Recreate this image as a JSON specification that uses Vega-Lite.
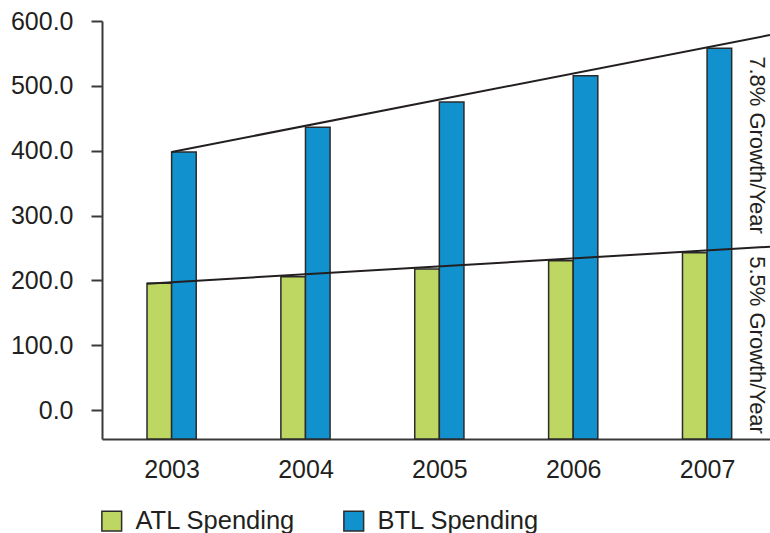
{
  "$schema": "https://vega.github.io/schema/vega-lite/v6.json",
  "width": 668,
  "height": 418,
  "autosize": {"type": "none"},
  "padding": {"left": 102, "top": 21, "right": 0, "bottom": 94},
  "background": "#ffffff",
  "config": {
    "view": {"stroke": null},
    "font": "Liberation Sans",
    "axis": {
      "grid": false,
      "labelFont": "Liberation Sans",
      "labelFontSize": 25,
      "labelColor": "#231f20",
      "domainColor": "#3a3a3a",
      "domainWidth": 2,
      "tickColor": "#3a3a3a",
      "tickWidth": 2,
      "tickSize": 11
    }
  },
  "datasets": {
    "spending": [
      {"year": 2003, "series": "ATL Spending", "value": 195.4},
      {"year": 2004, "series": "ATL Spending", "value": 205.6},
      {"year": 2005, "series": "ATL Spending", "value": 217.5},
      {"year": 2006, "series": "ATL Spending", "value": 230.3},
      {"year": 2007, "series": "ATL Spending", "value": 242.6},
      {"year": 2003, "series": "BTL Spending", "value": 398.0},
      {"year": 2004, "series": "BTL Spending", "value": 436.0},
      {"year": 2005, "series": "BTL Spending", "value": 475.1},
      {"year": 2006, "series": "BTL Spending", "value": 515.6},
      {"year": 2007, "series": "BTL Spending", "value": 557.9}
    ],
    "trends": [
      {"trend": "BTL", "year": 2003, "value": 398.0},
      {"trend": "BTL", "year": 2007.47, "value": 578.4},
      {"trend": "ATL", "year": 2002.816, "value": 194.8},
      {"trend": "ATL", "year": 2007.47, "value": 251.9}
    ],
    "notes": [
      {"label": "7.8% Growth/Year", "year": 2007.372, "value": 408.7},
      {"label": "5.5% Growth/Year", "year": 2007.372, "value": 100.2}
    ]
  },
  "encoding": {
    "x": {
      "field": "year",
      "type": "quantitative",
      "title": null,
      "scale": {"domain": [2002.48, 2007.47], "nice": false, "zero": false, "padding": 0},
      "axis": {
        "values": [2003, 2003.5, 2004, 2004.5, 2005, 2005.5, 2006, 2006.5, 2007],
        "format": "d",
        "labelExpr": "datum.value % 1 === 0 ? datum.label : ''",
        "labelOverlap": false,
        "labelFlush": false,
        "labelPadding": 7.5,
        "tickOpacity": {"condition": {"test": "datum.value % 1 !== 0", "value": 1}, "value": 0}
      }
    },
    "y": {
      "field": "value",
      "type": "quantitative",
      "title": null,
      "scale": {"domain": [-44.7, 600], "nice": false, "zero": false, "padding": 0},
      "axis": {
        "values": [0, 100, 200, 300, 400, 500, 600],
        "format": ".1f",
        "labelPadding": 18
      }
    }
  },
  "layer": [
    {
      "data": {"name": "spending"},
      "transform": [{"filter": "datum.series === 'ATL Spending'"}],
      "mark": {"type": "bar", "width": 24.6, "xOffset": -12.3, "stroke": "#2b2b2b", "strokeWidth": 1.5},
      "encoding": {
        "y2": {"datum": -44.7},
        "color": {
          "field": "series",
          "type": "nominal",
          "scale": {"domain": ["ATL Spending", "BTL Spending"], "range": ["#bed662", "#1191ce"]},
          "legend": {
            "orient": "none",
            "legendX": -3,
            "legendY": 487,
            "direction": "horizontal",
            "title": null,
            "padding": 0,
            "symbolType": "square",
            "symbolSize": 390,
            "symbolStrokeColor": "#2b2b2b",
            "symbolStrokeWidth": 1.5,
            "symbolOpacity": 1,
            "labelFont": "Liberation Sans",
            "labelFontSize": 25.5,
            "labelColor": "#231f20",
            "labelOffset": 11,
            "labelLimit": 400,
            "columnPadding": 44
          }
        }
      }
    },
    {
      "data": {"name": "spending"},
      "transform": [{"filter": "datum.series === 'BTL Spending'"}],
      "mark": {"type": "bar", "width": 24.6, "xOffset": 12.3, "stroke": "#2b2b2b", "strokeWidth": 1.5},
      "encoding": {
        "y2": {"datum": -44.7},
        "color": {"field": "series", "type": "nominal"}
      }
    },
    {
      "data": {"name": "trends"},
      "mark": {"type": "line", "color": "#231f20", "strokeWidth": 2, "clip": true},
      "encoding": {
        "detail": {"field": "trend", "type": "nominal"}
      }
    },
    {
      "data": {"name": "notes"},
      "mark": {
        "type": "text",
        "angle": 90,
        "align": "center",
        "baseline": "middle",
        "font": "Liberation Sans",
        "fontSize": 22,
        "color": "#231f20"
      },
      "encoding": {
        "text": {"field": "label", "type": "nominal"}
      }
    }
  ]
}
